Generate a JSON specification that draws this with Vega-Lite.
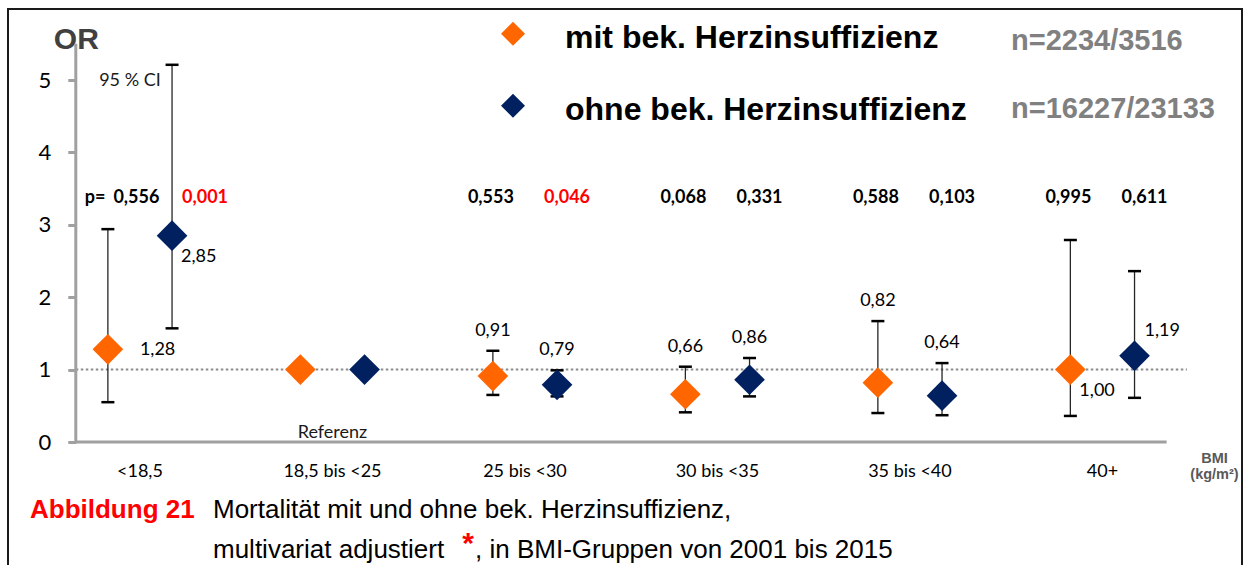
{
  "$schema": "https://vega.github.io/schema/vega-lite/v6.json",
  "width": 1234,
  "height": 558,
  "autosize": {"type": "none"},
  "padding": {"left": 8, "top": 9, "right": 6, "bottom": 0},
  "background": "white",
  "config": {
    "view": {"stroke": "#1a1a1a", "strokeWidth": 2},
    "font": "Lato",
    "text": {"font": "Lato", "fontSize": 18, "color": "#000000"},
    "legend": {"padding": 0},
    "locale": {"number": {"decimal": ",", "thousands": ".", "grouping": [3], "currency": ["", " €"]}}
  },
  "data": {
    "values": [
      {"cat": "<18,5", "series": "mit bek. Herzinsuffizienz", "n": "n=2234/3516", "or": 1.28, "lo": 0.55, "hi": 2.94, "p": 0.556},
      {"cat": "<18,5", "series": "ohne bek. Herzinsuffizienz", "n": "n=16227/23133", "or": 2.85, "lo": 1.57, "hi": 5.21, "p": 0.001},
      {"cat": "18,5 bis <25", "series": "mit bek. Herzinsuffizienz", "n": "n=2234/3516", "or": 1.0, "lo": null, "hi": null, "p": null},
      {"cat": "18,5 bis <25", "series": "ohne bek. Herzinsuffizienz", "n": "n=16227/23133", "or": 1.0, "lo": null, "hi": null, "p": null},
      {"cat": "25 bis <30", "series": "mit bek. Herzinsuffizienz", "n": "n=2234/3516", "or": 0.91, "lo": 0.65, "hi": 1.26, "p": 0.553},
      {"cat": "25 bis <30", "series": "ohne bek. Herzinsuffizienz", "n": "n=16227/23133", "or": 0.79, "lo": 0.63, "hi": 0.99, "p": 0.046},
      {"cat": "30 bis <35", "series": "mit bek. Herzinsuffizienz", "n": "n=2234/3516", "or": 0.66, "lo": 0.41, "hi": 1.04, "p": 0.068},
      {"cat": "30 bis <35", "series": "ohne bek. Herzinsuffizienz", "n": "n=16227/23133", "or": 0.86, "lo": 0.63, "hi": 1.16, "p": 0.331},
      {"cat": "35 bis <40", "series": "mit bek. Herzinsuffizienz", "n": "n=2234/3516", "or": 0.82, "lo": 0.40, "hi": 1.67, "p": 0.588},
      {"cat": "35 bis <40", "series": "ohne bek. Herzinsuffizienz", "n": "n=16227/23133", "or": 0.64, "lo": 0.37, "hi": 1.09, "p": 0.103},
      {"cat": "40+", "series": "mit bek. Herzinsuffizienz", "n": "n=2234/3516", "or": 1.0, "lo": 0.36, "hi": 2.79, "p": 0.995},
      {"cat": "40+", "series": "ohne bek. Herzinsuffizienz", "n": "n=16227/23133", "or": 1.19, "lo": 0.61, "hi": 2.36, "p": 0.611}
    ]
  },
  "layer": [
    {
      "data": {"values": [{}]},
      "mark": {"type": "rule", "color": "#8c8c8c", "strokeWidth": 2, "strokeDash": [2.5, 2.5]},
      "encoding": {
        "x": {"datum": "<18,5", "bandPosition": 0},
        "x2": {"datum": "40+", "bandPosition": 1.158},
        "y": {"datum": 1}
      }
    },
    {
      "data": {"values": [{}]},
      "mark": {"type": "rule", "color": "#A0A0A0", "strokeWidth": 3},
      "encoding": {
        "x": {"datum": "<18,5", "bandPosition": 0},
        "y": {"datum": 0},
        "y2": {"datum": 5.5}
      }
    },
    {
      "data": {"values": [{}]},
      "mark": {"type": "rule", "color": "#A0A0A0", "strokeWidth": 3},
      "encoding": {
        "x": {"datum": "<18,5", "bandPosition": 0},
        "x2": {"datum": "40+", "bandPosition": 1},
        "y": {"datum": 0}
      }
    },
    {
      "transform": [{"filter": "datum.lo != null"}],
      "mark": {"type": "rule", "color": "#262626", "strokeWidth": 1.3},
      "encoding": {
        "x": {"field": "cat", "type": "nominal"},
        "xOffset": {"field": "series", "type": "nominal"},
        "y": {"field": "lo", "type": "quantitative"},
        "y2": {"field": "hi"}
      }
    },
    {
      "transform": [{"filter": "datum.lo != null"}],
      "mark": {"type": "tick", "color": "#000000", "size": 13, "thickness": 2.5, "opacity": 1},
      "encoding": {
        "x": {"field": "cat", "type": "nominal"},
        "xOffset": {"field": "series", "type": "nominal"},
        "y": {"field": "lo", "type": "quantitative"}
      }
    },
    {
      "transform": [{"filter": "datum.hi != null"}],
      "mark": {"type": "tick", "color": "#000000", "size": 13, "thickness": 2.5, "opacity": 1},
      "encoding": {
        "x": {"field": "cat", "type": "nominal"},
        "xOffset": {"field": "series", "type": "nominal"},
        "y": {"field": "hi", "type": "quantitative"}
      }
    },
    {
      "mark": {"type": "point", "filled": true, "size": 940, "opacity": 1},
      "encoding": {
        "x": {
          "field": "cat", "type": "nominal",
          "scale": {"domain": ["<18,5", "18,5 bis <25", "25 bis <30", "30 bis <35", "35 bis <40", "40+"], "paddingInner": 0.3333, "paddingOuter": 0.3719, "align": 0.4735, "round": false},
          "axis": {"orient": "bottom", "offset": -125, "bandPosition": 0.5, "domain": false, "ticks": false, "tickSize": 0, "grid": false, "labelAngle": 0, "labelAlign": "center", "labelBaseline": "top", "labelFont": "Lato", "labelFontSize": 18, "labelColor": "#000000", "labelPadding": 20,
                   "title": ["BMI", "(kg/m²)"], "titleX": 1206, "titleY": 20, "titleAlign": "center", "titleAnchor": "start", "titleBaseline": "alphabetic", "titleAngle": 0, "titleFont": "Liberation Sans", "titleFontSize": 14.5, "titleFontWeight": "bold", "titleColor": "#595959", "titleLineHeight": 16}
        },
        "xOffset": {"field": "series", "type": "nominal", "scale": {"paddingInner": 0, "paddingOuter": 0}},
        "y": {
          "field": "or", "type": "quantitative",
          "scale": {"domain": [-1.7265, 5.9807], "nice": false, "zero": false},
          "axis": {"orient": "left", "offset": -67.8, "values": [0, 1, 2, 3, 4, 5], "format": "d", "domain": false, "grid": false, "ticks": true, "tickSize": 8, "tickWidth": 3, "tickColor": "#A0A0A0", "labelFont": "Lato", "labelFontSize": 22, "labelColor": "#000000", "labelPadding": 17,
                   "title": "OR", "titleAngle": 0, "titleX": 0, "titleY": 30, "titleAlign": "center", "titleBaseline": "middle", "titleFont": "Liberation Sans", "titleFontSize": 30, "titleFontWeight": "bold", "titleColor": "#404040"}
        },
        "color": {
          "field": "series", "type": "nominal",
          "scale": {"domain": ["mit bek. Herzinsuffizienz", "ohne bek. Herzinsuffizienz"], "range": ["#FF6600", "#002060"]},
          "legend": {"orient": "none", "legendX": 489, "legendY": 13, "title": null, "symbolType": "M0,-1.35L1,-0.35L0,0.65L-1,-0.35Z", "symbolSize": 576, "symbolStrokeWidth": 0, "labelFont": "Liberation Sans", "labelFontWeight": "bold", "labelFontSize": 32, "labelColor": "#000000", "labelOffset": 36, "labelLimit": 700, "rowPadding": 39, "padding": 0}
        },
        "shape": {
          "field": "n", "type": "nominal",
          "scale": {"domain": ["n=2234/3516", "n=16227/23133"], "range": ["diamond", "diamond"]},
          "legend": {"orient": "none", "legendX": 974, "legendY": 17, "title": null, "symbolOpacity": 0, "symbolSize": 0, "symbolStrokeWidth": 0, "labelFont": "Liberation Sans", "labelFontWeight": "bold", "labelFontSize": 29, "labelColor": "#808080", "labelOffset": 0, "labelLimit": 700, "rowPadding": 38, "padding": 0}
        }
      }
    },
    {
      "transform": [{"filter": "datum.cat == '25 bis <30' || datum.cat == '30 bis <35' || datum.cat == '35 bis <40'"}],
      "mark": {"type": "text", "align": "center", "baseline": "middle", "dy": -20, "fontSize": 18},
      "encoding": {
        "x": {"field": "cat", "type": "nominal"},
        "xOffset": {"field": "series", "type": "nominal"},
        "y": {"field": "hi", "type": "quantitative"},
        "text": {"field": "or", "type": "quantitative", "format": ".2f"}
      }
    },
    {
      "transform": [{"filter": "datum.cat == '<18,5' && datum.series == 'mit bek. Herzinsuffizienz'"}],
      "mark": {"type": "text", "align": "left", "baseline": "middle", "dx": 32, "dy": 1, "fontSize": 18},
      "encoding": {
        "x": {"field": "cat", "type": "nominal"},
        "xOffset": {"field": "series", "type": "nominal"},
        "y": {"field": "or", "type": "quantitative"},
        "text": {"field": "or", "type": "quantitative", "format": ".2f"}
      }
    },
    {
      "transform": [{"filter": "(datum.cat == '<18,5' && datum.series == 'ohne bek. Herzinsuffizienz') || (datum.cat == '40+' && datum.series == 'mit bek. Herzinsuffizienz')"}],
      "mark": {"type": "text", "align": "left", "baseline": "middle", "dx": 9, "dy": 21, "fontSize": 18},
      "encoding": {
        "x": {"field": "cat", "type": "nominal"},
        "xOffset": {"field": "series", "type": "nominal"},
        "y": {"field": "or", "type": "quantitative"},
        "text": {"field": "or", "type": "quantitative", "format": ".2f"}
      }
    },
    {
      "transform": [{"filter": "datum.cat == '40+' && datum.series == 'ohne bek. Herzinsuffizienz'"}],
      "mark": {"type": "text", "align": "left", "baseline": "middle", "dx": 10, "dy": -25, "fontSize": 18},
      "encoding": {
        "x": {"field": "cat", "type": "nominal"},
        "xOffset": {"field": "series", "type": "nominal"},
        "y": {"field": "or", "type": "quantitative"},
        "text": {"field": "or", "type": "quantitative", "format": ".2f"}
      }
    },
    {
      "transform": [{"filter": "datum.p != null && datum.cat != '<18,5' && datum.series == 'mit bek. Herzinsuffizienz'"}],
      "mark": {"type": "text", "align": "center", "baseline": "middle", "dx": -2, "fontSize": 18, "fontWeight": "bold"},
      "encoding": {
        "x": {"field": "cat", "type": "nominal"},
        "xOffset": {"field": "series", "type": "nominal"},
        "y": {"datum": 3.37},
        "text": {"field": "p", "type": "quantitative", "format": ".3f"},
        "color": {"condition": {"test": "datum.p < 0.05", "value": "#FF0000"}, "value": "#000000"}
      }
    },
    {
      "transform": [{"filter": "datum.p != null && datum.cat != '<18,5' && datum.series == 'ohne bek. Herzinsuffizienz'"}],
      "mark": {"type": "text", "align": "center", "baseline": "middle", "dx": 10, "fontSize": 18, "fontWeight": "bold"},
      "encoding": {
        "x": {"field": "cat", "type": "nominal"},
        "xOffset": {"field": "series", "type": "nominal"},
        "y": {"datum": 3.37},
        "text": {"field": "p", "type": "quantitative", "format": ".3f"},
        "color": {"condition": {"test": "datum.p < 0.05", "value": "#FF0000"}, "value": "#000000"}
      }
    },
    {
      "transform": [{"filter": "datum.cat == '<18,5' && datum.series == 'mit bek. Herzinsuffizienz'"}],
      "mark": {"type": "text", "align": "center", "baseline": "middle", "dx": 28.5, "fontSize": 18, "fontWeight": "bold"},
      "encoding": {
        "x": {"field": "cat", "type": "nominal"},
        "xOffset": {"field": "series", "type": "nominal"},
        "y": {"datum": 3.37},
        "text": {"field": "p", "type": "quantitative", "format": ".3f"},
        "color": {"condition": {"test": "datum.p < 0.05", "value": "#FF0000"}, "value": "#000000"}
      }
    },
    {
      "transform": [{"filter": "datum.cat == '<18,5' && datum.series == 'ohne bek. Herzinsuffizienz'"}],
      "mark": {"type": "text", "align": "center", "baseline": "middle", "dx": 33, "fontSize": 18, "fontWeight": "bold"},
      "encoding": {
        "x": {"field": "cat", "type": "nominal"},
        "xOffset": {"field": "series", "type": "nominal"},
        "y": {"datum": 3.37},
        "text": {"field": "p", "type": "quantitative", "format": ".3f"},
        "color": {"condition": {"test": "datum.p < 0.05", "value": "#FF0000"}, "value": "#000000"}
      }
    },
    {
      "data": {"values": [{}]},
      "mark": {"type": "text", "align": "center", "baseline": "middle", "fontSize": 18, "fontWeight": "bold"},
      "encoding": {
        "x": {"datum": "<18,5", "bandPosition": 0.15},
        "y": {"datum": 3.37},
        "text": {"value": "p="}
      }
    },
    {
      "data": {"values": [{}]},
      "mark": {"type": "text", "align": "center", "baseline": "middle", "fontSize": 18, "color": "#1a1a1a"},
      "encoding": {
        "x": {"datum": "<18,5", "bandPosition": 0.422},
        "y": {"datum": 4.99},
        "text": {"value": "95 % CI"}
      }
    },
    {
      "data": {"values": [{}]},
      "mark": {"type": "text", "align": "center", "baseline": "middle", "fontSize": 18, "color": "#1a1a1a"},
      "encoding": {
        "x": {"datum": "18,5 bis <25"},
        "y": {"datum": 0.12},
        "text": {"value": "Referenz"}
      }
    },
    {
      "data": {"values": [{}]},
      "mark": {"type": "text", "align": "left", "baseline": "alphabetic", "dx": -45.8, "font": "Liberation Sans", "fontSize": 26, "fontWeight": "bold", "color": "#FF0000"},
      "encoding": {
        "x": {"datum": "<18,5", "bandPosition": 0},
        "y": {"datum": -1.0497},
        "text": {"value": "Abbildung 21"}
      }
    },
    {
      "data": {"values": [{}]},
      "mark": {"type": "text", "align": "left", "baseline": "alphabetic", "dx": 137.2, "font": "Liberation Sans", "fontSize": 26, "color": "#000000"},
      "encoding": {
        "x": {"datum": "<18,5", "bandPosition": 0},
        "y": {"datum": -1.0497},
        "text": {"value": "Mortalität mit und ohne bek. Herzinsuffizienz,"}
      }
    },
    {
      "data": {"values": [{}]},
      "mark": {"type": "text", "align": "left", "baseline": "alphabetic", "dx": 137.2, "font": "Liberation Sans", "fontSize": 26, "color": "#000000"},
      "encoding": {
        "x": {"datum": "<18,5", "bandPosition": 0},
        "y": {"datum": -1.6022},
        "text": {"value": "multivariat adjustiert"}
      }
    },
    {
      "data": {"values": [{}]},
      "mark": {"type": "text", "align": "center", "baseline": "alphabetic", "dx": 392.2, "font": "Liberation Sans", "fontSize": 30, "fontWeight": "bold", "color": "#FF0000"},
      "encoding": {
        "x": {"datum": "<18,5", "bandPosition": 0},
        "y": {"datum": -1.535},
        "text": {"value": "*"}
      }
    },
    {
      "data": {"values": [{}]},
      "mark": {"type": "text", "align": "left", "baseline": "alphabetic", "dx": 399.2, "font": "Liberation Sans", "fontSize": 26, "color": "#000000"},
      "encoding": {
        "x": {"datum": "<18,5", "bandPosition": 0},
        "y": {"datum": -1.6022},
        "text": {"value": ", in BMI-Gruppen von 2001 bis 2015"}
      }
    }
  ]
}
